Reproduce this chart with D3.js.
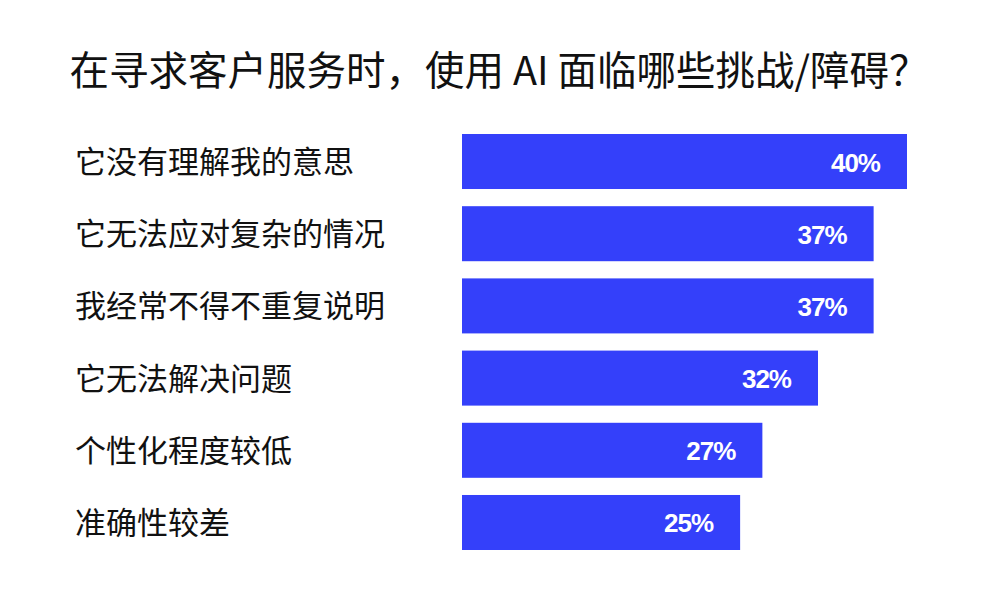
<!DOCTYPE html>
<html>
<head>
<meta charset="utf-8">
<script src="https://cdn.jsdelivr.net/npm/d3@7"></script>
<style>
  body { margin: 0; background: #fff; }
</style>
</head>
<body>
<div id="chart"></div>
<script>
const title = "在寻求客户服务时，使用 AI 面临哪些挑战/障碍？";
const categories = [
  "它没有理解我的意思",
  "它无法应对复杂的情况",
  "我经常不得不重复说明",
  "它无法解决问题",
  "个性化程度较低",
  "准确性较差"
];
const values = [40, 37, 37, 32, 27, 25];

const width = 1000;
const height = 600;

const svg = d3.select("#chart")
  .append("svg")
  .attr("width", width)
  .attr("height", height)
  .style("display", "block");

const x = d3.scaleLinear().domain([0, 40]).range([462, 907]);
const y = d3.scaleBand()
  .domain(categories)
  .range([134, 550])
  .paddingInner(0.238)
  .paddingOuter(0);

svg.append("text")
  .attr("x", 499)
  .attr("y", 67)
  .attr("text-anchor", "middle")
  .attr("dominant-baseline", "central")
  .style("font-family", "'Noto Sans CJK SC', sans-serif")
  .style("font-size", "39.5px")
  .attr("fill", "#111")
  .text(title);

const rows = svg.selectAll("g.row")
  .data(categories)
  .enter()
  .append("g")
  .attr("class", "row");

rows.append("text")
  .attr("x", 75)
  .attr("y", (d) => y(d) + y.bandwidth() / 2 - 2)
  .attr("dominant-baseline", "central")
  .style("font-family", "'Noto Sans CJK SC', sans-serif")
  .style("font-size", "31px")
  .attr("fill", "#111")
  .text((d) => d);

rows.append("rect")
  .attr("x", x(0))
  .attr("y", (d) => y(d))
  .attr("width", (d, i) => x(values[i]) - x(0))
  .attr("height", y.bandwidth())
  .attr("fill", "#3440fa");

rows.append("text")
  .attr("x", (d, i) => x(values[i]) - 27)
  .attr("y", (d) => y(d) + y.bandwidth() / 2 + 1)
  .attr("text-anchor", "end")
  .attr("dominant-baseline", "central")
  .style("font-family", "'Liberation Sans', Arial, sans-serif")
  .style("font-weight", "bold")
  .style("font-size", "26px")
  .style("letter-spacing", "-1px")
  .attr("fill", "#fff")
  .text((d, i) => values[i] + "%");
</script>
</body>
</html>
